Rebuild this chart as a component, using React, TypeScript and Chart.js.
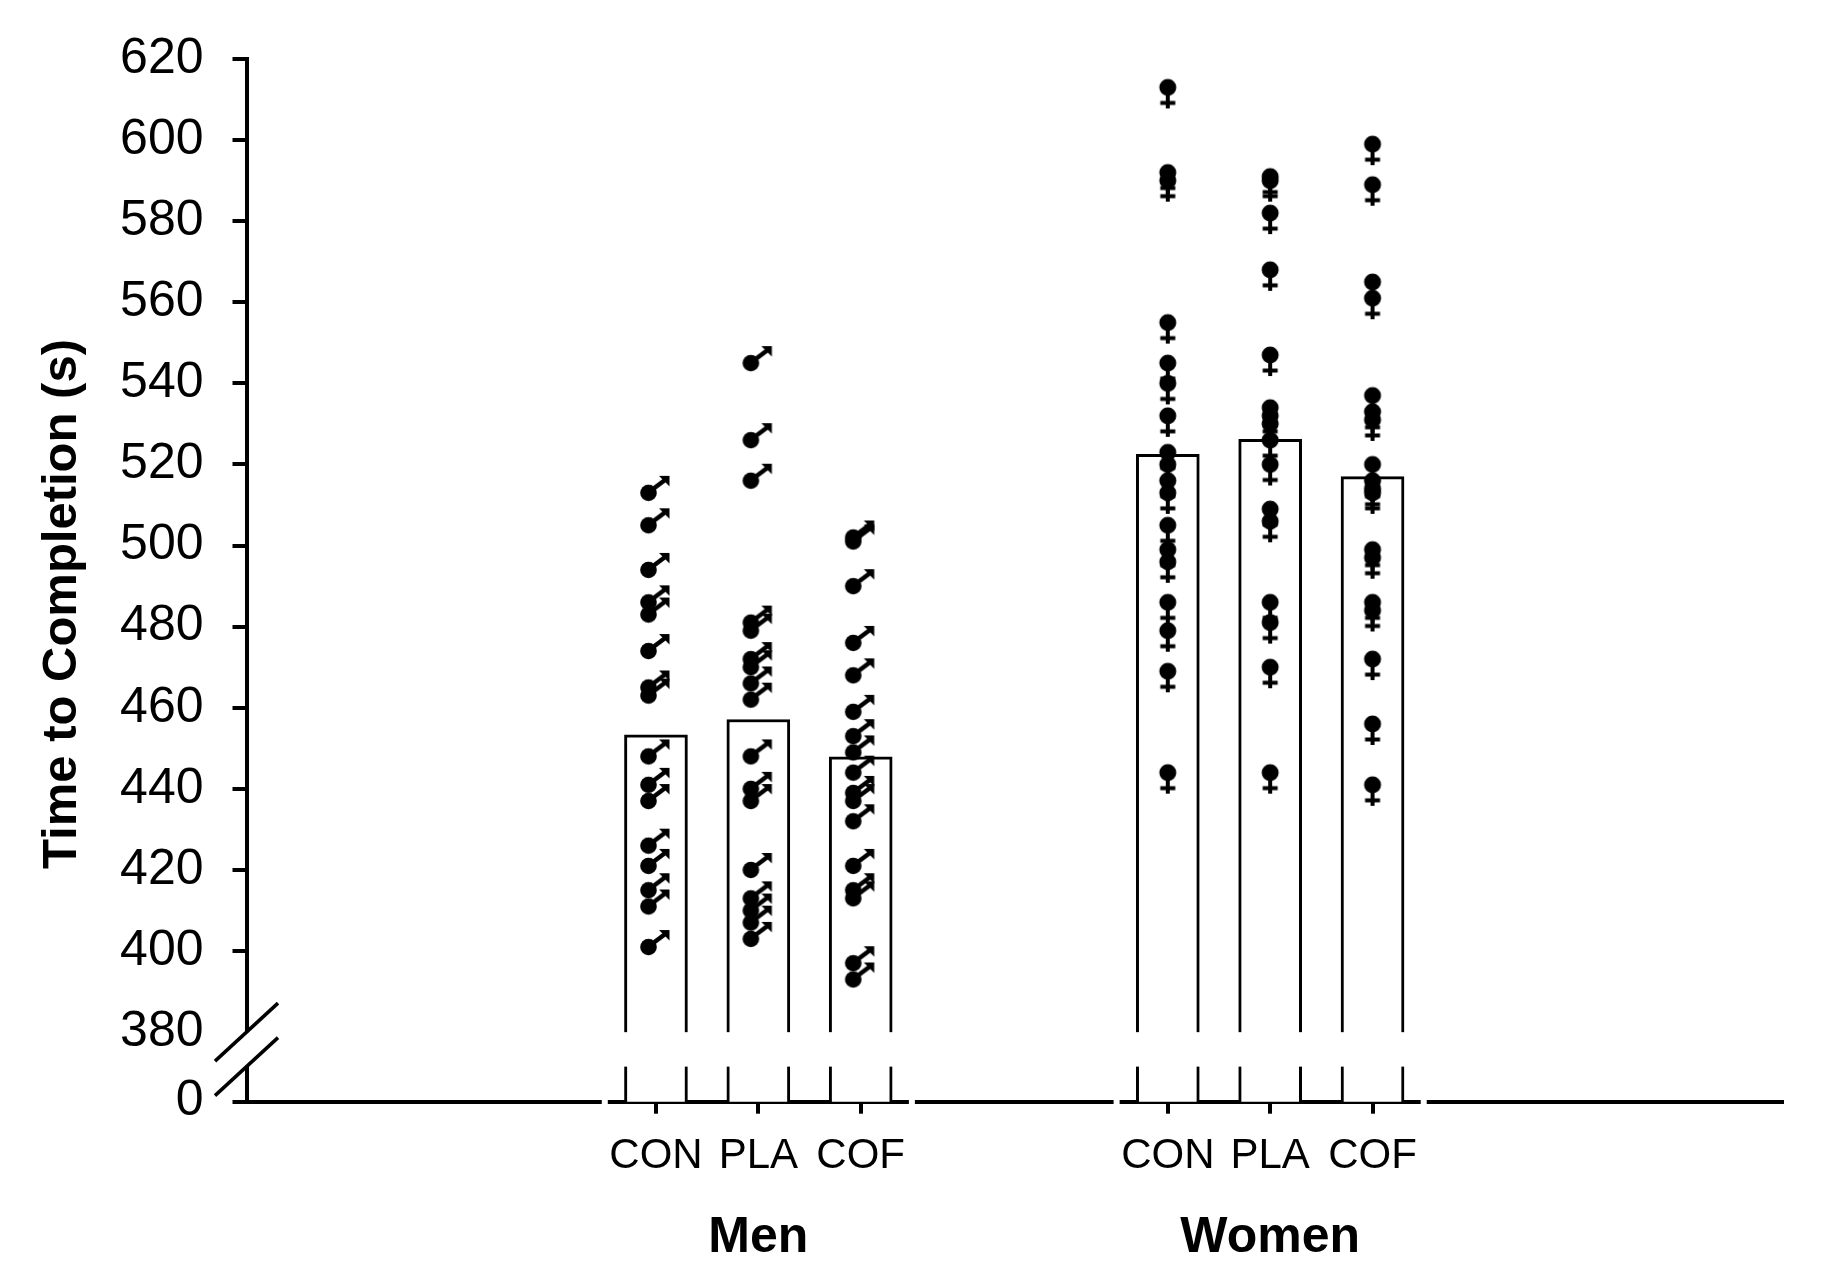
import React from "react";
import Chart from "chart.js/auto";

// categories
const groupNames = ["Men", "Women"];
const conditions = ["CON", "PLA", "COF"];
// slot of each condition on the x scale (0..15)
const menSlots = [4, 5, 6];
const womenSlots = [9, 10, 11];
const xMax = 15;

// group means (bars)
const menMeans = [453.3, 457.1, 447.9];
const womenMeans = [522.5, 526.2, 517];

// individual times (s)
const menCON = [513, 505, 494, 486, 483, 474, 465, 463, 448, 441, 437, 426, 421, 415, 411, 401];
const menPLA = [545, 526, 516, 481, 479, 472, 470, 466, 462, 448, 440, 437, 420, 413, 410, 407, 403];
const menCOF = [502, 501, 490, 476, 468, 459, 453, 449, 444, 439, 437, 432, 421, 415, 413, 397, 393];
const womenCON = [613, 592, 590, 555, 545, 540, 532, 523, 520, 516, 513, 505, 499, 496, 486, 479, 469, 444];
const womenPLA = [591, 590, 582, 568, 547, 534, 532, 530, 526, 520, 509, 506, 486, 481, 470, 444];
const womenCOF = [599, 589, 565, 561, 537, 533, 531, 520, 516, 514, 513, 499, 497, 486, 484, 472, 456, 441];

// y axis: broken between 0 and 380
const yTickValues = [380, 400, 420, 440, 460, 480, 500, 520, 540, 560, 580, 600, 620];
const yZero = 362.85; // where "0" sits on the broken axis
const yBreakTop = 380;
const yBreakBottom = 371.5;
// little gaps in the x axis line
const xAxisGaps = [3.5, 6.5, 8.5, 11.5];

const FONT = "'Liberation Sans', Arial, Helvetica, sans-serif";

function maleSymbol() {
    const c = document.createElement("canvas");
    c.width = 64;
    c.height = 64;
    const g = c.getContext("2d")!;
    const cx = 32 - 7.5, cy = 32;
    g.fillStyle = "#000";
    g.strokeStyle = "#000";
    g.beginPath();
    g.arc(cx, cy, 8.3, 0, Math.PI * 2);
    g.fill();
    g.lineWidth = 4.5;
    g.beginPath();
    g.moveTo(cx + 2, cy - 2);
    g.lineTo(cx + 16, cy - 12.5);
    g.stroke();
    g.beginPath();
    g.moveTo(cx + 21, cy - 17);
    g.lineTo(cx + 10.5, cy - 17);
    g.lineTo(cx + 21, cy - 6.5);
    g.closePath();
    g.fill();
    return c;
}

function femaleSymbol() {
    const c = document.createElement("canvas");
    c.width = 64;
    c.height = 64;
    const g = c.getContext("2d")!;
    const cx = 32, cy = 32;
    g.fillStyle = "#000";
    g.beginPath();
    g.arc(cx, cy, 8.5, 0, Math.PI * 2);
    g.fill();
    g.fillRect(cx - 2, cy + 6, 4, 15);
    g.fillRect(cx - 7.5, cy + 13.5, 15, 4);
    return c;
}

const breakPlugin = {
    id: "axisBreak",
    afterDatasetsDraw(chart: any) {
        const { ctx, chartArea, scales } = chart;
        const x = scales.x, y = scales.y;
        const top = y.getPixelForValue(yBreakTop);
        const bottom = y.getPixelForValue(yBreakBottom);
        ctx.save();
        ctx.fillStyle = "#fff";
        ctx.fillRect(chartArea.left - 4, top, chartArea.right - chartArea.left + 4, bottom - top);
        xAxisGaps.forEach((g) => {
            const px = x.getPixelForValue(g);
            ctx.fillRect(px - 3, chartArea.bottom - 4, 6, 8);
        });
        ctx.strokeStyle = "#000";
        ctx.lineWidth = 3.5;
        [top, bottom].forEach((py) => {
            ctx.beginPath();
            ctx.moveTo(chartArea.left - 31.5, py + 29);
            ctx.lineTo(chartArea.left + 31.5, py - 29);
            ctx.stroke();
        });
        ctx.restore();
    },
    afterDraw(chart: any) {
        const { ctx, scales } = chart;
        ctx.save();
        ctx.fillStyle = "#000";
        ctx.font = `bold 50px ${FONT}`;
        ctx.textAlign = "center";
        ctx.textBaseline = "alphabetic";
        ctx.fillText(groupNames[0], scales.x.getPixelForValue(menSlots[1]), 1252);
        ctx.fillText(groupNames[1], scales.x.getPixelForValue(womenSlots[1]), 1252);
        ctx.translate(76, 604);
        ctx.rotate(-Math.PI / 2);
        ctx.font = `bold 49px ${FONT}`;
        ctx.fillText("Time to Completion (s)", 0, 0);
        ctx.restore();
    },
};

export default function App() {
    const canvasRef = React.useRef<HTMLCanvasElement | null>(null);

    React.useEffect(() => {
        document.body.style.margin = "0";
        document.body.style.overflow = "hidden";
        const canvas = canvasRef.current;
        if (!canvas) return;

        const male = maleSymbol();
        const female = femaleSymbol();
        const toPoints = (slots: number[], lists: number[][]) =>
            lists.flatMap((list, i) => list.map((v) => ({ x: slots[i], y: v })));

        const bars = [
            ...menMeans.map((v, i) => ({ x: menSlots[i], y: v })),
            ...womenMeans.map((v, i) => ({ x: womenSlots[i], y: v })),
        ];

        // @ts-ignore
        const chart = new Chart(canvas, {
            type: "scatter",
            data: {
                datasets: [
                    {
                        type: "bar",
                        data: bars,
                        backgroundColor: "#fff",
                        borderColor: "#000",
                        borderWidth: 3,
                        borderSkipped: "bottom",
                        barThickness: 63,
                        order: 2,
                    },
                    {
                        data: toPoints(menSlots, [menCON, menPLA, menCOF]),
                        pointStyle: male,
                        pointRadius: 8,
                        order: 1,
                    },
                    {
                        data: toPoints(womenSlots, [womenCON, womenPLA, womenCOF]),
                        pointStyle: female,
                        pointRadius: 8,
                        order: 1,
                    },
                ],
            },
            options: {
                animation: false,
                responsive: false,
                devicePixelRatio: 1,
                events: [],
                layout: { padding: { top: 57, right: 46, bottom: 0, left: 0 } },
                plugins: { legend: { display: false }, tooltip: { enabled: false } },
                scales: {
                    x: {
                        type: "linear",
                        min: 0,
                        max: xMax,
                        offset: false,
                        afterBuildTicks: (s: any) => {
                            s.ticks = [...menSlots, ...womenSlots].map((v) => ({ value: v }));
                        },
                        afterFit: (s: any) => {
                            s.height = 183.3;
                        },
                        grid: { offset: false, drawOnChartArea: false, tickLength: 12, lineWidth: 4, color: "#000" },
                        border: { width: 4, color: "#000" },
                        ticks: {
                            autoSkip: false,
                            maxRotation: 0,
                            minRotation: 0,
                            padding: 18,
                            color: "#000",
                            font: { family: FONT, size: 42 },
                            callback: (_v: any, i: number) => conditions[i % conditions.length],
                        },
                    },
                    y: {
                        type: "linear",
                        min: yZero,
                        max: 620,
                        afterBuildTicks: (s: any) => {
                            s.ticks = [yZero, ...yTickValues].map((v) => ({ value: v }));
                        },
                        afterFit: (s: any) => {
                            s.width = 246.5;
                        },
                        grid: {
                            drawOnChartArea: false,
                            tickLength: 14,
                            lineWidth: 4,
                            color: (c: any) => (c.tick && c.tick.value === yBreakTop ? "rgba(0,0,0,0)" : "#000"),
                        },
                        border: { width: 4, color: "#000" },
                        ticks: {
                            padding: 29,
                            color: "#000",
                            font: { family: FONT, size: 50 },
                            callback: (v: any) => (v === yZero ? "0" : String(v)),
                        },
                    },
                },
            },
            plugins: [breakPlugin],
        });

        return () => chart.destroy();
    }, []);

    return (
        <div style={{ width: 1828, height: 1285, background: "#fff" }}>
            <canvas ref={canvasRef} width={1828} height={1285} style={{ display: "block" }}></canvas>
        </div>
    );
}
